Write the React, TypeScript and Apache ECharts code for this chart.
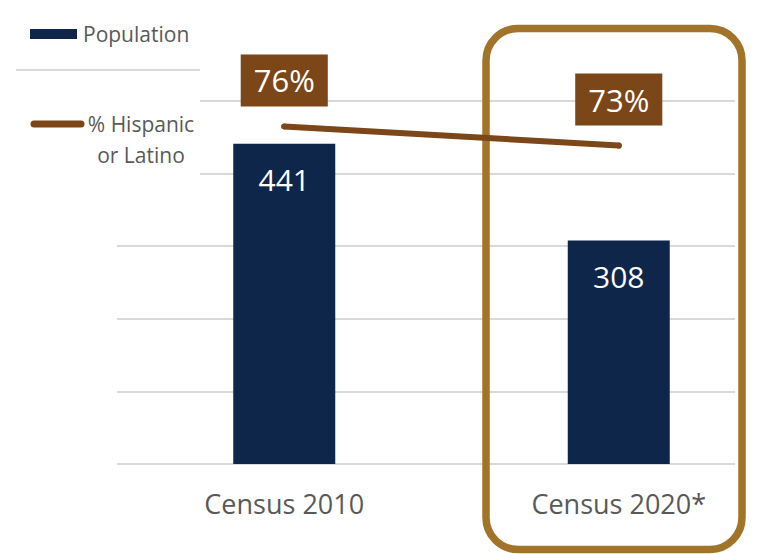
import React, { useEffect, useRef } from "react";
import * as echarts from "echarts";

const categories = ["Census 2010", "Census 2020*"];
const population = [441, 308];
const hispanicPct = [76, 73];
const popTicks = [0, 100, 200, 300, 400, 500];

const NAVY = "#0D2649";
const BROWN = "#7B4618";
const GOLD = "#A1742A";
const GRAY = "#595959";
const GRID = "#D9D9D9";
const FONT = "'Open Sans', sans-serif";

const catIndex = categories.map((_, i) => i);
const popData = population.map((v, i) => [catIndex[i], v]);
const pctData = hispanicPct.map((v, i) => [catIndex[i], v]);

export default function App() {
  const ref = useRef<HTMLDivElement>(null);
  useEffect(() => {
    if (!ref.current) return;
    const chart = echarts.init(ref.current, undefined, { renderer: "svg" });
    chart.setOption({
      animation: false,
      backgroundColor: "#ffffff",
      textStyle: { fontFamily: FONT },
      grid: [
        { left: 117, right: 26, top: 101, bottom: 90 },
        { left: 117, right: 26, top: 101, bottom: 90 },
      ],
      xAxis: [
        {
          type: "value",
          gridIndex: 0,
          min: -0.5,
          max: 1.3475,
          axisLine: { show: false },
          axisTick: { show: false },
          splitLine: { show: false },
          axisLabel: {
            customValues: catIndex,
            formatter: (v: number) => categories[Math.round(v)] ?? "",
            fontSize: 27,
            lineHeight: 30,
            color: GRAY,
            margin: 24,
            fontFamily: FONT,
          },
        },
        { type: "value", gridIndex: 1, min: 0, max: 1, show: false },
      ],
      yAxis: [
        { type: "value", gridIndex: 0, min: popTicks[0], max: popTicks[popTicks.length - 1], interval: 100, show: false },
        { type: "value", gridIndex: 0, min: 23, max: 80, show: false },
        {
          type: "value",
          gridIndex: 1,
          min: popTicks[0],
          max: popTicks[popTicks.length - 1],
          interval: 100,
          axisLine: { show: false },
          axisTick: { show: false },
          axisLabel: { show: false },
          splitLine: { show: true, lineStyle: { color: GRID, width: 2 } },
        },
      ],
      series: [
        {
          name: "Population",
          type: "bar",
          xAxisIndex: 0,
          yAxisIndex: 0,
          data: popData,
          barWidth: 102,
          itemStyle: { color: NAVY },
          z: 3,
          label: {
            show: true,
            position: "insideTop",
            distance: 20,
            fontSize: 30,
            fontWeight: 500,
            lineHeight: 32,
            color: "#ffffff",
            fontFamily: FONT,
            formatter: (p: any) => String(p.value[1]),
          },
        },
        {
          name: "% Hispanic or Latino",
          type: "line",
          xAxisIndex: 0,
          yAxisIndex: 1,
          data: pctData,
          symbol: "circle",
          symbolSize: 6,
          itemStyle: { color: BROWN },
          lineStyle: { color: BROWN, width: 6, cap: "round" },
          z: 12,
          label: {
            show: true,
            position: "top",
            distance: 17,
            formatter: (p: any) => p.value[1] + "%",
            fontSize: 31,
            fontWeight: 500,
            lineHeight: 32,
            color: "#ffffff",
            backgroundColor: BROWN,
            padding: [10, 13],
            fontFamily: FONT,
          },
        },
      ],
      graphic: [
        {
          type: "rect",
          z: 5,
          shape: { x: 0, y: 0, width: 200, height: 200 },
          style: { fill: "#ffffff" },
        },
        {
          type: "rect",
          z: 6,
          shape: { x: 30, y: 29, width: 47, height: 10 },
          style: { fill: NAVY },
        },
        {
          type: "text",
          z: 6,
          x: 83,
          y: 34,
          style: {
            text: "Population",
            fill: GRAY,
            fontSize: 21,
            fontFamily: FONT,
            verticalAlign: "middle",
            align: "left",
          },
        },
        {
          type: "line",
          z: 6,
          shape: { x1: 16, y1: 70, x2: 200, y2: 70 },
          style: { stroke: GRID, lineWidth: 2 },
        },
        {
          type: "line",
          z: 6,
          shape: { x1: 34, y1: 124, x2: 81, y2: 124 },
          style: { stroke: BROWN, lineWidth: 7, lineCap: "round" },
        },
        {
          type: "text",
          z: 6,
          x: 141,
          y: 139.5,
          style: {
            text: "% Hispanic\nor Latino",
            fill: GRAY,
            fontSize: 21,
            lineHeight: 31,
            fontFamily: FONT,
            verticalAlign: "middle",
            align: "center",
          },
        },
        {
          type: "rect",
          z: 8,
          shape: { x: 486, y: 28.5, width: 256, height: 521, r: 32 },
          style: { fill: "none", stroke: GOLD, lineWidth: 7.5 },
        },
      ],
    });
    return () => chart.dispose();
  }, []);
  return (
    <div
      ref={ref}
      style={{ position: "fixed", left: 0, top: 0, width: 761, height: 554 }}
    />
  );
}
